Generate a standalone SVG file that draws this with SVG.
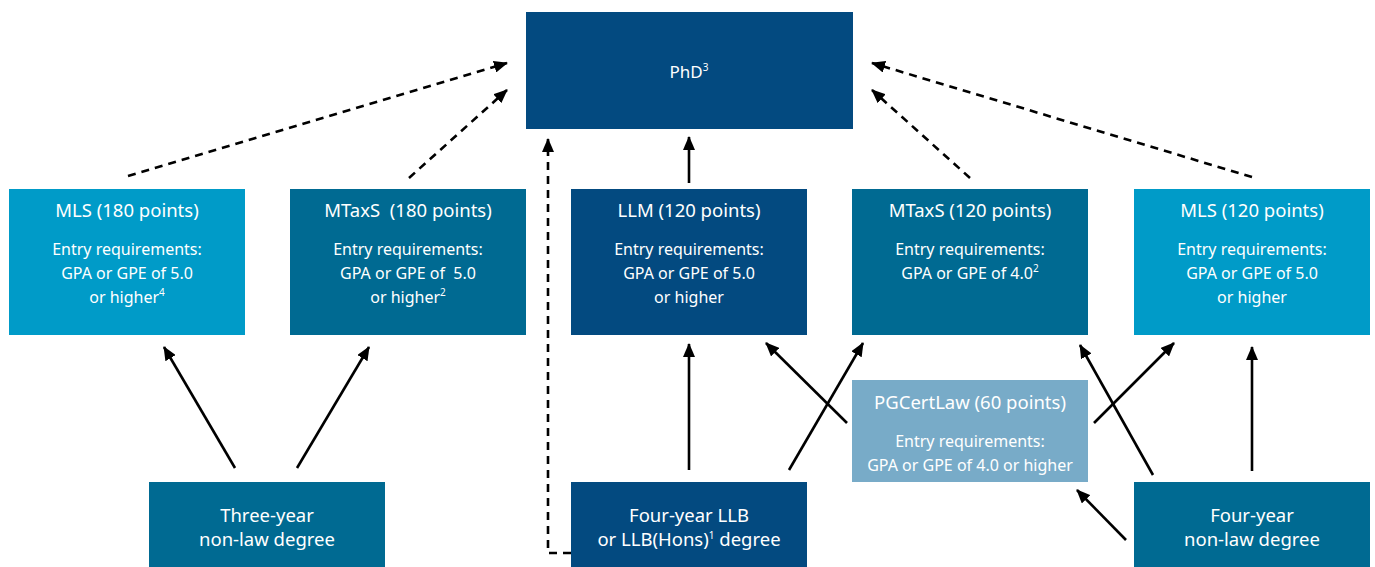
<svg xmlns="http://www.w3.org/2000/svg" width="1375" height="567" viewBox="0 0 1375 567">
<defs>
<marker id="ah" viewBox="0 0 14 12" markerWidth="14" markerHeight="12" refX="13" refY="6" orient="auto" markerUnits="userSpaceOnUse">
<path d="M0,0 L14,6 L0,12 z" fill="#000" stroke="none"/>
</marker>
<style>
.bx{stroke:none}
.dk{fill:#034a80}
.lt{fill:#009bc8}
.md{fill:#006a92}
.pg{fill:#78abc8}
text{font-family:"Noto Sans","Open Sans","Liberation Sans",sans-serif;fill:#fff;text-anchor:middle}
.t{font-size:18.5px}
.b{font-size:16px}
.p{font-size:17px}
.sup{font-size:10px}
.ln{stroke:#000;stroke-width:2.6;fill:none;marker-end:url(#ah)}
.ds{stroke-dasharray:8 6}
</style>
</defs>
<rect width="1375" height="567" fill="#fff"/>
<g id="phd">
<rect class="bx dk" x="526" y="12" width="327" height="117"/>
<text class="p" x="689" y="78">PhD<tspan class="sup" dy="-7">3</tspan></text>
</g>
<g id="mls180">
<rect class="bx lt" x="9" y="189" width="236" height="146"/>
<text class="t" x="127" y="217">MLS (180 points)</text>
<text class="b" x="127" y="255">Entry requirements:</text>
<text class="b" x="127" y="279">GPA or GPE of 5.0</text>
<text class="b" x="127" y="303">or higher<tspan class="sup" dy="-7">4</tspan></text>
</g>
<g id="mtaxs180">
<rect class="bx md" x="290" y="189" width="236" height="146"/>
<text class="t" x="408" y="217" xml:space="preserve">MTaxS  (180 points)</text>
<text class="b" x="408" y="255">Entry requirements:</text>
<text class="b" x="408" y="279" xml:space="preserve">GPA or GPE of  5.0</text>
<text class="b" x="408" y="303">or higher<tspan class="sup" dy="-7">2</tspan></text>
</g>
<g id="llm">
<rect class="bx dk" x="571" y="189" width="236" height="146"/>
<text class="t" x="689" y="217">LLM (120 points)</text>
<text class="b" x="689" y="255">Entry requirements:</text>
<text class="b" x="689" y="279">GPA or GPE of 5.0</text>
<text class="b" x="689" y="303">or higher</text>
</g>
<g id="mtaxs120">
<rect class="bx md" x="852" y="189" width="236" height="146"/>
<text class="t" x="970" y="217">MTaxS (120 points)</text>
<text class="b" x="970" y="255">Entry requirements:</text>
<text class="b" x="970" y="279">GPA or GPE of 4.0<tspan class="sup" dy="-7">2</tspan></text>
</g>
<g id="mls120">
<rect class="bx lt" x="1134" y="189" width="236" height="146"/>
<text class="t" x="1252" y="217">MLS (120 points)</text>
<text class="b" x="1252" y="255">Entry requirements:</text>
<text class="b" x="1252" y="279">GPA or GPE of 5.0</text>
<text class="b" x="1252" y="303">or higher</text>
</g>
<g id="pgcertlaw">
<rect class="bx pg" x="852" y="380" width="236" height="102"/>
<text class="t" x="970" y="409">PGCertLaw (60 points)</text>
<text class="b" x="970" y="447">Entry requirements:</text>
<text class="b" x="970" y="471">GPA or GPE of 4.0 or higher</text>
</g>
<g id="threeyear">
<rect class="bx md" x="149" y="482" width="236" height="85"/>
<text class="t" x="267" y="522">Three-year</text>
<text class="t" x="267" y="546">non-law degree</text>
</g>
<g id="llb">
<rect class="bx dk" x="571" y="482" width="236" height="85"/>
<text class="t" x="689" y="522">Four-year LLB</text>
<text class="t" x="689" y="546">or LLB(Hons)<tspan class="sup" dy="-7">1</tspan><tspan dy="7"> degree</tspan></text>
</g>
<g id="fouryear">
<rect class="bx md" x="1134" y="482" width="236" height="85"/>
<text class="t" x="1252" y="522">Four-year</text>
<text class="t" x="1252" y="546">non-law degree</text>
</g>
<g id="connectors">
<line class="ln ds" x1="128" y1="176" x2="507" y2="63"/>
<line class="ln ds" x1="409" y1="178" x2="507" y2="90"/>
<line class="ln ds" x1="970" y1="178" x2="872" y2="90"/>
<line class="ln ds" x1="1252" y1="177" x2="872" y2="63"/>
<path class="ln ds" d="M571,553 L548,553 L548,139"/>
<line class="ln" x1="689" y1="183" x2="689" y2="137"/>
<line class="ln" x1="235" y1="468" x2="164" y2="347"/>
<line class="ln" x1="297" y1="468" x2="369" y2="347"/>
<line class="ln" x1="689" y1="470" x2="689" y2="344"/>
<line class="ln" x1="847" y1="423" x2="766" y2="343"/>
<line class="ln" x1="789" y1="470" x2="863" y2="343"/>
<line class="ln" x1="1153" y1="475" x2="1080" y2="345"/>
<line class="ln" x1="1094" y1="423" x2="1174" y2="343"/>
<line class="ln" x1="1252" y1="471" x2="1252" y2="347"/>
<line class="ln" x1="1126" y1="540" x2="1077" y2="490"/>
</g>
</svg>
